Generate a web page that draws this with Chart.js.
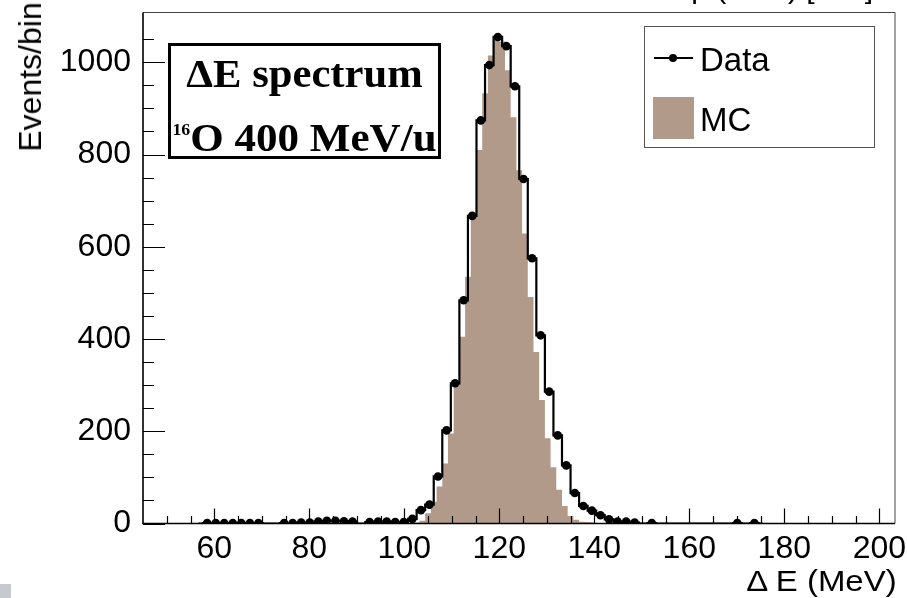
<!DOCTYPE html>
<html><head><meta charset="utf-8">
<script src="https://cdn.jsdelivr.net/npm/chart.js@4.4.1/dist/chart.umd.min.js"></script>
<style>
html,body{margin:0;padding:0;background:#fff;}
#wrap{position:relative;width:907px;height:598px;overflow:hidden;font-family:"Liberation Sans",Arial,sans-serif;color:#000;}
canvas{position:absolute;left:0;top:0;}
.abs{position:absolute;white-space:nowrap;}
.serif{font-family:"Liberation Serif","Times New Roman",serif;font-weight:bold;}
</style></head><body>
<div id="wrap">
<canvas id="c" width="907" height="598"></canvas>

<div class="abs" style="right:34px;top:-27px;font-size:30px;line-height:30px;">Δp (MeV) [mm]</div>

<div class="abs" style="left:30px;top:77px;font-size:32px;line-height:32px;transform:translate(-50%,-50%) rotate(-90deg);">Events/bin</div>

<div class="abs" style="right:10px;top:566px;font-size:30px;line-height:30px;transform:scaleX(1.1);transform-origin:right center;">Δ E (MeV)</div>

<div class="abs" style="left:168px;top:43px;width:273px;height:116px;box-sizing:border-box;border:3px solid #000;background:#fff;"></div>
<div class="abs serif" style="left:168px;top:53px;width:273px;text-align:center;font-size:41px;line-height:41px;transform:scaleX(1.04);">ΔE spectrum</div>
<div class="abs serif" style="left:168px;top:117px;width:273px;text-align:center;font-size:41px;line-height:41px;transform:scaleX(1.05);"><span style="font-size:17px;position:relative;top:-16px;">16</span>O 400 MeV/u</div>

<div class="abs" style="left:644px;top:26px;width:231px;height:122px;box-sizing:border-box;border:1px solid #555;background:#fff;"></div>
<div class="abs" style="left:654px;top:57px;width:39px;height:2px;background:#000;"></div>
<div class="abs" style="left:669px;top:54px;width:8px;height:8px;border-radius:50%;background:#000;"></div>
<div class="abs" style="left:700px;top:43px;font-size:33px;line-height:33px;">Data</div>
<div class="abs" id="mcSwatch" style="left:653px;top:97px;width:41px;height:42px;"></div>
<div class="abs" style="left:700px;top:103px;font-size:33px;line-height:33px;">MC</div>

<div class="abs" style="left:0;top:584px;width:11px;height:14px;background:#c6cacf;"></div>
</div>
<script>
// ---- data ----
const dataBinWidth = 1.8;        // MeV per data bin
const dataFirstCenter = 56.7;    // centre of first listed data bin
const dataCounts = [0,1,1,1,1,1,1,1,0,0, 1,1,2,2,4,6,6,5,4,0,
  3,4,4,3,3,10,29,41,102,202, 304,484,667,874,994,1055,1035,948,747,575,
  408,286,191,126,66,38,28,18,9,4, 4,2,0,1,0,0,0,0,0,0, 0,0,0,1,0,1,0];

const mcBinWidth = 1.2;          // MeV per MC bin
const mcFirstEdge = 100.8;       // low edge of first listed MC bin
const mcCounts = [1,2,6,22,47,80,130,195,304,405,
  535,672,810,933,1015,1058,1045,983,881,766,
  629,491,372,268,185,122,73,38,16,8,
  4,3,2,1,1,1,1,1,1,1, 1,1,1,1,1,1,1,1,1,1, 1,1,1,1,1,1,1];

const xTickLabels = [60,80,100,120,140,160,180,200];
const yTickLabels = [0,200,400,600,800,1000];
const xMinorStep = 5, yMinorStep = 50;
const MC_COLOR = '#b29a8b';

document.getElementById('mcSwatch').style.background = MC_COLOR;

const dataPoints = dataCounts.map((v,i)=>({x: +(dataFirstCenter + i*dataBinWidth).toFixed(2), y: v}));
const mcPoints = mcCounts.map((v,i)=>({x: +(mcFirstEdge + i*mcBinWidth).toFixed(2), y: v}));
mcPoints.push({x: +(mcFirstEdge + mcCounts.length*mcBinWidth).toFixed(2), y: 0});

const xTickVals = []; for (let v = 50; v <= 200; v += xMinorStep) xTickVals.push(v);
const yTickVals = []; for (let v = 0; v <= 1050; v += yMinorStep) yTickVals.push(v);

const rootFrame = {
  id: 'rootFrame',
  afterDatasetsDraw(chart) {
    const {ctx, chartArea: a, scales: {x, y}} = chart;
    ctx.save();
    ctx.strokeStyle = '#000';
    ctx.lineWidth = 1.2;
    ctx.beginPath();
    x.ticks.forEach(t => {
      const px = Math.round(x.getPixelForValue(t.value)) + 0.5;
      const len = xTickLabels.includes(t.value) ? 15 : 7.5;
      ctx.moveTo(px, a.bottom); ctx.lineTo(px, a.bottom - len);
    });
    y.ticks.forEach(t => {
      const py = Math.round(y.getPixelForValue(t.value)) + 0.5;
      const len = yTickLabels.includes(t.value) ? 22 : 11;
      ctx.moveTo(a.left, py); ctx.lineTo(a.left + len, py);
    });
    ctx.stroke();
    ctx.lineWidth = 1;
    ctx.strokeStyle = '#444';
    ctx.beginPath();
    ctx.moveTo(a.left, a.top); ctx.lineTo(a.right, a.top); ctx.lineTo(a.right, a.bottom);
    ctx.stroke();
    ctx.lineWidth = 1.6;
    ctx.strokeStyle = '#000';
    ctx.beginPath();
    ctx.moveTo(a.left, a.top); ctx.lineTo(a.left, a.bottom); ctx.lineTo(a.right, a.bottom);
    ctx.stroke();
    ctx.restore();
  }
};

const tickFont = {family: 'Liberation Sans', size: 32};

new Chart(document.getElementById('c'), {
  type: 'line',
  data: {
    datasets: [
      {
        label: 'Data', data: dataPoints, stepped: 'middle',
        borderColor: '#000', borderWidth: 2.2, fill: false,
        pointRadius: c => (c.raw && c.raw.y > 0) ? 4.3 : 0,
        pointHoverRadius: 0, pointBackgroundColor: '#000', pointBorderWidth: 0
      },
      {
        label: 'MC', data: mcPoints, stepped: 'before',
        borderWidth: 0, borderColor: 'rgba(0,0,0,0)', backgroundColor: MC_COLOR,
        fill: 'origin', pointRadius: 0, pointHoverRadius: 0
      }
    ]
  },
  options: {
    responsive: false, animation: false, devicePixelRatio: 1,
    layout: {padding: {top: 12.5, right: 12, left: 0, bottom: 0}},
    plugins: {legend: {display: false}, tooltip: {enabled: false}},
    events: [],
    scales: {
      x: {
        type: 'linear', min: 45, max: 203.3,
        grid: {display: false}, border: {display: false},
        afterBuildTicks: s => { s.ticks = xTickVals.map(v => ({value: v})); },
        afterFit: s => { s.height = 74.5; s.paddingLeft = 0; s.paddingRight = 0; },
        ticks: {autoSkip: false, maxRotation: 0, minRotation: 0, padding: -2, color: '#000', font: tickFont,
          callback: v => xTickLabels.includes(v) ? String(v) : ''}
      },
      y: {
        type: 'linear', min: 0, max: 1108,
        grid: {display: false}, border: {display: false},
        afterBuildTicks: s => { s.ticks = yTickVals.map(v => ({value: v})); },
        afterFit: s => { s.width = 143; s.paddingTop = 0; s.paddingBottom = 0; },
        ticks: {autoSkip: false, padding: 4, color: '#000', font: tickFont,
          callback: v => yTickLabels.includes(v) ? String(v) : ''}
      }
    }
  },
  plugins: [rootFrame]
});
</script>
</body></html>
